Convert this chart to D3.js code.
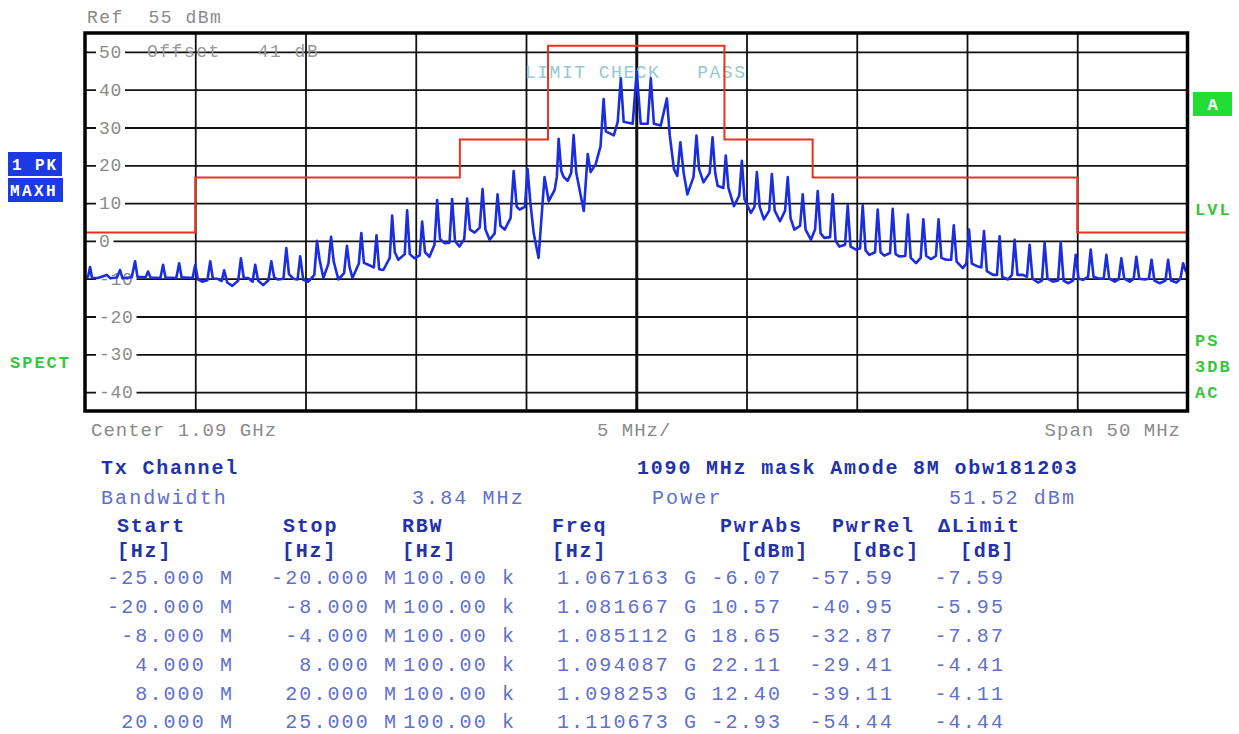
<!DOCTYPE html>
<html>
<head>
<meta charset="utf-8">
<script src="https://cdn.jsdelivr.net/npm/d3@7/dist/d3.min.js"></script>
<style>
  body { margin: 0; background: #fff; }
  svg text { font-family: "Liberation Mono", "Courier New", monospace; }
</style>
</head>
<body>
<div id="chart"></div>
<script>
var w = 1239;
var h = 734;

// *** DATA ***
// trace points: [offset from center in MHz, level in dBm]
var trace = [
  [-25.00,-9.6],[-24.86,-9.4],[-24.77,-6.9],[-24.68,-9.8],
  [-24.41,-9.8],[-24.01,-9.0],[-23.85,-9.9],
  [-23.55,-9.7],[-23.41,-7.7],[-23.30,-9.9],
  [-22.88,-9.6],[-22.73,-5.4],[-22.62,-9.5],
  [-22.25,-9.6],[-22.14,-8.1],[-22.03,-9.7],
  [-21.58,-9.8],[-21.46,-6.3],[-21.35,-9.7],
  [-20.86,-9.8],[-20.73,-5.9],[-20.62,-9.6],
  [-20.12,-9.8],[-20.00,-6.3],[-19.88,-10.2],[-19.69,-10.8],
  [-19.45,-10.4],[-19.32,-5.4],[-19.20,-10.0],[-19.01,-10.0],
  [-18.80,-10.6],[-18.69,-7.8],[-18.55,-11.0],[-18.32,-11.9],
  [-18.05,-10.5],[-17.93,-4.6],[-17.80,-9.8],[-17.60,-9.8],
  [-17.40,-10.8],[-17.28,-6.3],[-17.15,-10.5],[-16.92,-11.7],
  [-16.68,-10.4],[-16.55,-5.4],[-16.42,-9.7],[-16.24,-10.2],
  [-16.00,-10.0],[-15.87,-1.9],[-15.75,-8.8],[-15.55,-10.0],
  [-15.36,-10.2],[-15.24,-4.1],[-15.10,-10.3],[-14.87,-10.8],
  [-14.60,-9.0],[-14.48,0.0],[-14.36,-5.0],[-14.19,-9.8],
  [-13.96,-6.0],[-13.84,1.1],[-13.72,-5.5],[-13.51,-10.2],
  [-13.25,-8.5],[-13.12,-1.3],[-13.00,-7.0],[-12.87,-9.8],
  [-12.58,-6.0],[-12.47,2.1],[-12.35,-5.8],[-12.15,-6.3],
  [-11.90,-7.0],[-11.78,1.5],[-11.66,-7.5],[-11.47,-7.7],
  [-11.18,-4.5],[-11.07,6.7],[-10.95,-3.0],[-10.79,-5.0],
  [-10.50,-3.5],[-10.39,8.1],[-10.27,-3.5],[-10.06,-4.6],
  [-9.82,-3.8],[-9.71,5.1],[-9.58,-3.0],[-9.38,-4.2],
  [-9.15,-1.0],[-9.03,10.8],[-8.90,0.5],[-8.70,-0.6],
  [-8.47,-0.5],[-8.35,11.1],[-8.22,0.0],[-8.02,-1.5],
  [-7.80,0.5],[-7.67,11.2],[-7.54,3.0],[-7.33,2.2],
  [-7.10,3.5],[-6.97,13.7],[-6.84,3.0],[-6.65,0.3],
  [-6.42,2.0],[-6.29,12.3],[-6.16,4.0],[-5.97,3.0],
  [-5.70,6.0],[-5.56,18.5],[-5.42,9.0],[-5.29,8.3],
  [-5.05,9.0],[-4.93,19.0],[-4.80,10.0],[-4.65,2.0],[-4.43,-4.5],[-4.30,6.0],
  [-4.16,16.9],[-3.97,10.5],[-3.70,13.5],[-3.60,17.0],[-3.52,27.0],[-3.40,18.5],
  [-3.29,16.9],[-3.11,15.9],[-2.95,18.0],[-2.84,28.0],[-2.72,18.0],[-2.38,7.9],
  [-2.20,23.0],[-2.07,18.2],[-1.84,20.3],[-1.62,25.0],[-1.48,37.5],[-1.38,29.0],
  [-1.02,27.9],[-0.84,31.5],[-0.70,43.0],[-0.57,31.5],[-0.16,31.0],[0.02,44.8],
  [0.20,31.0],[0.52,31.0],[0.66,43.0],[0.80,31.0],[1.11,30.5],[1.39,37.7],
  [1.52,27.9],[1.71,19.0],[1.86,17.2],[2.00,26.1],[2.15,18.0],[2.32,12.3],
  [2.60,17.0],[2.73,27.9],[2.85,19.0],[3.05,15.5],
  [3.33,18.0],[3.46,27.4],[3.58,18.0],[3.69,14.6],
  [3.95,14.0],[4.06,22.6],[4.18,14.0],[4.43,9.2],
  [4.67,12.0],[4.79,21.2],[4.91,11.0],[5.20,7.4],
  [5.36,9.0],[5.47,18.2],[5.60,9.0],[5.79,5.7],
  [6.03,8.0],[6.15,17.7],[6.28,8.0],[6.52,5.2],
  [6.75,8.0],[6.87,16.9],[7.00,6.0],[7.17,3.0],
  [7.43,4.0],[7.55,12.3],[7.68,3.0],[7.92,0.3],
  [8.11,3.0],[8.23,13.2],[8.36,2.0],[8.53,0.8],
  [8.79,1.0],[8.91,12.3],[9.04,0.0],[9.21,-1.5],
  [9.47,-1.0],[9.59,9.4],[9.72,-1.5],[9.97,-2.3],
  [10.15,-2.0],[10.27,9.4],[10.40,-2.5],[10.57,-3.7],
  [10.83,-3.0],[10.95,8.3],[11.08,-3.0],[11.25,-3.9],
  [11.51,-3.2],[11.63,8.5],[11.76,-3.5],[11.93,-4.1],
  [12.20,-4.0],[12.32,7.0],[12.45,-4.5],[12.69,-5.9],
  [12.90,-4.5],[13.02,5.7],[13.15,-4.0],[13.37,-4.8],
  [13.59,-4.0],[13.71,5.7],[13.84,-4.5],[14.06,-5.0],
  [14.28,-5.0],[14.40,4.1],[14.53,-5.5],[14.81,-7.2],
  [14.97,-6.0],[15.09,3.0],[15.22,-6.0],[15.50,-6.8],
  [15.65,-7.0],[15.77,2.6],[15.90,-8.0],[16.18,-9.0],
  [16.36,-9.0],[16.48,1.2],[16.60,-9.5],[16.86,-10.2],
  [17.04,-9.0],[17.16,0.3],[17.29,-9.0],[17.54,-9.0],
  [17.72,-9.5],[17.84,-1.0],[17.97,-10.0],[18.22,-11.0],
  [18.40,-10.5],[18.52,-0.5],[18.65,-10.0],[18.90,-10.8],
  [19.13,-10.5],[19.25,-0.4],[19.38,-10.5],[19.58,-11.2],
  [19.81,-10.5],[19.93,-3.7],[20.06,-10.0],[20.26,-10.3],
  [20.49,-9.5],[20.61,-2.3],[20.74,-9.5],[20.94,-9.9],
  [21.20,-10.0],[21.32,-3.7],[21.45,-10.0],[21.70,-10.8],
  [21.88,-10.2],[22.00,-4.6],[22.13,-10.0],[22.38,-10.8],
  [22.56,-10.0],[22.68,-4.2],[22.81,-10.0],[23.06,-10.2],
  [23.25,-10.0],[23.37,-5.0],[23.50,-10.5],[23.74,-11.2],
  [24.00,-10.5],[24.12,-5.0],[24.25,-10.5],[24.50,-11.0],
  [24.68,-10.0],[24.80,-5.9],[24.92,-8.0],[25.00,-8.5]
];

// limit line segments (MHz) and level (dBm)
var limitStart = [-25, -20, -8, -4, 4, 8, 20],
    limitStop  = [-20, -8, -4, 4, 8, 20, 25],
    limitLevel = [2.2, 16.8, 26.8, 51.6, 26.8, 16.8, 2.2];

var yTicks = [50, 40, 30, 20, 10, 0, -10, -20, -30, -40];
var xTicks = [-20, -15, -10, -5, 0, 5, 10, 15, 20];

// table below the screen
var colStart  = ["-25.000 M", "-20.000 M", "-8.000 M", "4.000 M", "8.000 M", "20.000 M"],
    colStop   = ["-20.000 M", "-8.000 M", "-4.000 M", "8.000 M", "20.000 M", "25.000 M"],
    colRbw    = ["100.00 k", "100.00 k", "100.00 k", "100.00 k", "100.00 k", "100.00 k"],
    colFreq   = ["1.067163 G", "1.081667 G", "1.085112 G", "1.094087 G", "1.098253 G", "1.110673 G"],
    colPwrAbs = ["-6.07", "10.57", "18.65", "22.11", "12.40", "-2.93"],
    colPwrRel = ["-57.59", "-40.95", "-32.87", "-29.41", "-39.11", "-54.44"],
    colDLimit = ["-7.59", "-5.95", "-7.87", "-4.41", "-4.11", "-4.44"];
// ******************************************

var svg = d3.select("#chart")
    .append("svg")
    .attr("width", w)
    .attr("height", h);

var plot = {left: 85, right: 1187.5, top: 33, bottom: 411};

var x = d3.scaleLinear().domain([-25, 25]).range([plot.left, plot.right]),
    y = d3.scaleLinear().domain([-45, 55]).range([plot.bottom, plot.top]);

var gray = "#8a8a8a", green = "#3cc43c", tblDark = "#2233aa", tblLight = "#6070cc";

// header text
svg.append("text").attr("x", 87).attr("y", 23)
    .attr("fill", gray).style("font-size", "18px").style("letter-spacing", "1.5px")
    .attr("xml:space", "preserve").text("Ref  55 dBm");

// grid
svg.append("g")
    .attr("transform", "translate(0," + plot.bottom + ")")
    .call(d3.axisBottom(x).tickValues(xTicks).tickSize(-(plot.bottom - plot.top)).tickFormat(""))
    .call(function(g) {
      g.select(".domain").remove();
      g.selectAll(".tick line")
        .attr("stroke", "#111")
        .attr("stroke-width", function(d) { return d === 0 ? 3 : 1.8; });
    });

svg.append("g")
    .attr("transform", "translate(" + plot.left + ",0)")
    .call(d3.axisLeft(y).tickValues(yTicks).tickSize(-(plot.right - plot.left)).tickFormat(""))
    .call(function(g) {
      g.select(".domain").remove();
      g.selectAll(".tick line").attr("stroke", "#111").attr("stroke-width", 1.8);
    });

// y labels sitting on the grid lines
var yLab = svg.append("g").selectAll("g")
    .data(yTicks)
    .enter().append("g")
    .attr("transform", function(d) { return "translate(99," + y(d) + ")"; });

yLab.append("rect")
    .attr("x", -3)
    .attr("y", -8)
    .attr("width", function(d) { return String(d).length * 11.5 + 6; })
    .attr("height", 16)
    .attr("fill", "#fff");

yLab.append("text")
    .attr("y", 6)
    .attr("fill", gray)
    .style("font-size", "18px")
    .style("letter-spacing", "0.7px")
    .text(function(d) { return d; });

svg.append("text").attr("x", 147).attr("y", 57)
    .attr("fill", "#9a9a9a").style("font-size", "18px").style("letter-spacing", "1.5px")
    .attr("xml:space", "preserve").text("Offset   41 dB");

svg.append("text").attr("x", 525).attr("y", 78)
    .attr("fill", "#93c9d2").style("font-size", "18px").style("letter-spacing", "1.5px")
    .attr("xml:space", "preserve").text("LIMIT CHECK   PASS");

// limit line
var limitPts = [];
limitStart.forEach(function(s, i) {
  limitPts.push([s, limitLevel[i]]);
  limitPts.push([limitStop[i], limitLevel[i]]);
});

svg.append("path")
    .datum(limitPts)
    .attr("fill", "none")
    .attr("stroke", "#e4341f")
    .attr("stroke-width", 2)
    .attr("d", d3.line()
      .x(function(d) { return x(d[0]); })
      .y(function(d) { return y(d[1]); }));

// trace
svg.append("path")
    .datum(trace)
    .attr("fill", "none")
    .attr("stroke", "#1a2ee0")
    .attr("stroke-width", 2.6)
    .attr("stroke-linejoin", "round")
    .attr("d", d3.line()
      .x(function(d) { return x(d[0]); })
      .y(function(d) { return y(d[1]); }));

// frame
svg.append("rect")
    .attr("x", plot.left)
    .attr("y", plot.top)
    .attr("width", plot.right - plot.left)
    .attr("height", plot.bottom - plot.top)
    .attr("fill", "none")
    .attr("stroke", "#000")
    .attr("stroke-width", 3.5);

// side annotations
svg.append("rect").attr("x", 8).attr("y", 152).attr("width", 54).attr("height", 24).attr("fill", "#1c3ae4");
svg.append("rect").attr("x", 8).attr("y", 178).attr("width", 55).attr("height", 24).attr("fill", "#1c3ae4");
svg.append("text").attr("x", 12).attr("y", 170).attr("fill", "#fff")
    .style("font-size", "16px").style("font-weight", "bold").style("letter-spacing", "1.9px")
    .attr("xml:space", "preserve").text("1 PK");
svg.append("text").attr("x", 10).attr("y", 196).attr("fill", "#fff")
    .style("font-size", "16px").style("font-weight", "bold").style("letter-spacing", "2.4px").text("MAXH");
svg.append("text").attr("x", 10).attr("y", 368).attr("fill", green)
    .style("font-size", "17px").style("font-weight", "bold").style("letter-spacing", "2px").text("SPECT");

svg.append("rect").attr("x", 1193).attr("y", 92).attr("width", 39).attr("height", 24).attr("fill", "#22dd33");
svg.append("text").attr("x", 1212.5).attr("y", 110).attr("text-anchor", "middle").attr("fill", "#fff")
    .style("font-size", "17px").style("font-weight", "bold").text("A");
[["LVL", 215], ["PS", 346], ["3DB", 372], ["AC", 398]].forEach(function(t) {
  svg.append("text").attr("x", 1195).attr("y", t[1]).attr("fill", green)
      .style("font-size", "17px").style("font-weight", "bold").style("letter-spacing", "2px").text(t[0]);
});

// under the screen
var sub = svg.append("g").attr("fill", gray).style("font-size", "19px").style("letter-spacing", "1px");
sub.append("text").attr("x", 91).attr("y", 436).attr("xml:space", "preserve").text("Center 1.09 GHz");
sub.append("text").attr("x", 597).attr("y", 436).attr("xml:space", "preserve").text("5 MHz/");
sub.append("text").attr("x", 1181).attr("y", 436).attr("text-anchor", "end").attr("xml:space", "preserve").text("Span 50 MHz");

// table
var tbl = svg.append("g").style("font-size", "20px").style("letter-spacing", "2.1px");

function cell(txt, xx, yy, anchor, bold) {
  tbl.append("text")
      .attr("x", xx).attr("y", yy)
      .attr("text-anchor", anchor || "start")
      .attr("fill", bold ? tblDark : tblLight)
      .style("font-weight", bold ? "bold" : "normal")
      .style("letter-spacing", bold ? "1.8px" : null)
      .attr("xml:space", "preserve")
      .text(txt);
}

cell("Tx Channel", 101, 474, "start", true);
cell("1090 MHz mask Amode 8M obw181203", 637, 474, "start", true);
cell("Bandwidth", 101, 504);
cell("3.84 MHz", 412, 504);
cell("Power", 652, 504);
cell("51.52 dBm", 1076, 504, "end");

var heads = [["Start", 117], ["Stop", 283], ["RBW", 402], ["Freq", 552], ["PwrAbs", 720], ["PwrRel", 832], ["\u0394Limit", 938]];
heads.forEach(function(d) { cell(d[0], d[1], 532, "start", true); });
var units = [["[Hz]", 117], ["[Hz]", 282], ["[Hz]", 402], ["[Hz]", 552], ["[dBm]", 740], ["[dBc]", 851], ["[dB]", 960]];
units.forEach(function(d) { cell(d[0], d[1], 557, "start", true); });

var rowY = [584, 613, 642, 671, 700, 728];
rowY.forEach(function(yy, i) {
  cell(colStart[i], 234, yy, "end");
  cell(colStop[i], 398, yy, "end");
  cell(colRbw[i], 516, yy, "end");
  cell(colFreq[i], 698, yy, "end");
  cell(colPwrAbs[i], 782, yy, "end");
  cell(colPwrRel[i], 894, yy, "end");
  cell(colDLimit[i], 1005, yy, "end");
});
</script>
</body>
</html>
